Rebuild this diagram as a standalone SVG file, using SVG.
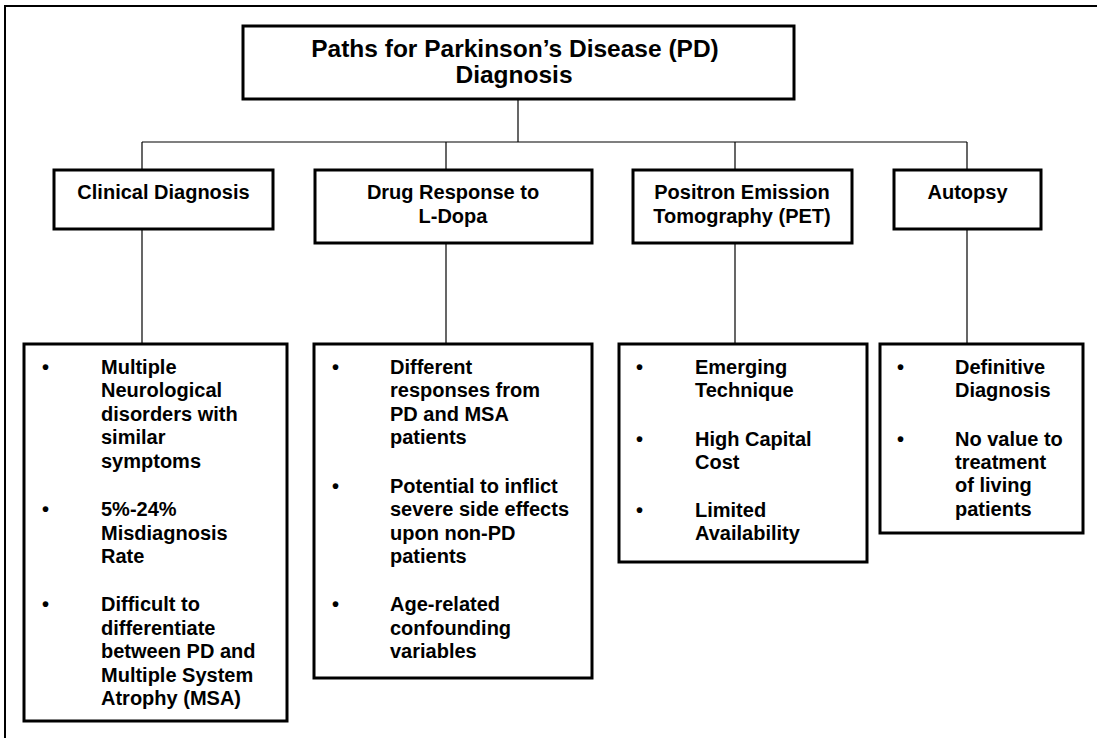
<svg xmlns="http://www.w3.org/2000/svg" width="1097" height="738" viewBox="0 0 1097 738">
<style>
.box{fill:#fff;stroke:#000;stroke-width:3}
.t{font-family:"Liberation Sans",Arial,sans-serif;font-weight:bold;font-size:20px;fill:#000}
.c{text-anchor:middle}
.ttl{font-size:24.5px}
.conn{fill:none;stroke:#000;stroke-width:1.2}
</style>
<rect x="0" y="0" width="1097" height="738" fill="#fff"/>
<path d="M5,738 V6 H1097" fill="none" stroke="#000" stroke-width="2"/>
<g id="connectors" class="conn">
<path d="M518,99 V142"/>
<path d="M142,142 H967"/>
<path d="M142,142 V170"/><path d="M446,142 V170"/><path d="M735,142 V170"/><path d="M967,142 V170"/>
<path d="M142,229 V344"/><path d="M446,243 V344"/><path d="M735,243 V344"/><path d="M967,229 V344"/>
</g>
<g id="title">
<rect class="box" x="243" y="26" width="551" height="73"/>
<text class="t c ttl" x="515" y="57">Paths for Parkinson’s Disease (PD)</text>
<text class="t c ttl" x="514" y="83">Diagnosis</text>
</g>
<g id="clinical">
<rect class="box" x="54" y="170" width="219" height="59"/>
<text class="t c" x="163.5" y="199">Clinical Diagnosis</text>
</g>
<g id="drug">
<rect class="box" x="315" y="170" width="277" height="73"/>
<text class="t c" x="453" y="199">Drug Response to</text>
<text class="t c" x="453" y="223">L-Dopa</text>
</g>
<g id="pet">
<rect class="box" x="633" y="170" width="219" height="73"/>
<text class="t c" x="742" y="199">Positron Emission</text>
<text class="t c" x="742" y="223">Tomography (PET)</text>
</g>
<g id="autopsy">
<rect class="box" x="894" y="170" width="147" height="59"/>
<text class="t c" x="967.5" y="199">Autopsy</text>
</g>
<g id="clinical-notes">
<rect class="box" x="24" y="344" width="263" height="377"/>
<text class="t" x="42" y="374">•</text>
<text class="t" x="101" y="374">Multiple</text>
<text class="t" x="101" y="397.4">Neurological</text>
<text class="t" x="101" y="420.8">disorders with</text>
<text class="t" x="101" y="444.2">similar</text>
<text class="t" x="101" y="467.6">symptoms</text>
<text class="t" x="42" y="516.1">•</text>
<text class="t" x="101" y="516.1">5%-24%</text>
<text class="t" x="101" y="539.5">Misdiagnosis</text>
<text class="t" x="101" y="562.9">Rate</text>
<text class="t" x="42" y="611.4">•</text>
<text class="t" x="101" y="611.4">Difficult to</text>
<text class="t" x="101" y="634.8">differentiate</text>
<text class="t" x="101" y="658.2">between PD and</text>
<text class="t" x="101" y="681.6">Multiple System</text>
<text class="t" x="101" y="705">Atrophy (MSA)</text>
</g>
<g id="drug-notes">
<rect class="box" x="314" y="344" width="278" height="334"/>
<text class="t" x="332" y="374">•</text>
<text class="t" x="390" y="374">Different</text>
<text class="t" x="390" y="397.4">responses from</text>
<text class="t" x="390" y="420.8">PD and MSA</text>
<text class="t" x="390" y="444.2">patients</text>
<text class="t" x="332" y="492.7">•</text>
<text class="t" x="390" y="492.7">Potential to inflict</text>
<text class="t" x="390" y="516.1">severe side effects</text>
<text class="t" x="390" y="539.5">upon non-PD</text>
<text class="t" x="390" y="562.9">patients</text>
<text class="t" x="332" y="611.4">•</text>
<text class="t" x="390" y="611.4">Age-related</text>
<text class="t" x="390" y="634.8">confounding</text>
<text class="t" x="390" y="658.2">variables</text>
</g>
<g id="pet-notes">
<rect class="box" x="619" y="344" width="248" height="218"/>
<text class="t" x="636" y="374">•</text>
<text class="t" x="695" y="374">Emerging</text>
<text class="t" x="695" y="397.4">Technique</text>
<text class="t" x="636" y="445.5">•</text>
<text class="t" x="695" y="445.5">High Capital</text>
<text class="t" x="695" y="468.5">Cost</text>
<text class="t" x="636" y="517">•</text>
<text class="t" x="695" y="517">Limited</text>
<text class="t" x="695" y="540.4">Availability</text>
</g>
<g id="autopsy-notes">
<rect class="box" x="880" y="344" width="203" height="189"/>
<text class="t" x="897" y="374">•</text>
<text class="t" x="955" y="374">Definitive</text>
<text class="t" x="955" y="397.4">Diagnosis</text>
<text class="t" x="897" y="445.5">•</text>
<text class="t" x="955" y="445.5">No value to</text>
<text class="t" x="955" y="468.9">treatment</text>
<text class="t" x="955" y="492.3">of living</text>
<text class="t" x="955" y="515.7">patients</text>
</g>
</svg>
